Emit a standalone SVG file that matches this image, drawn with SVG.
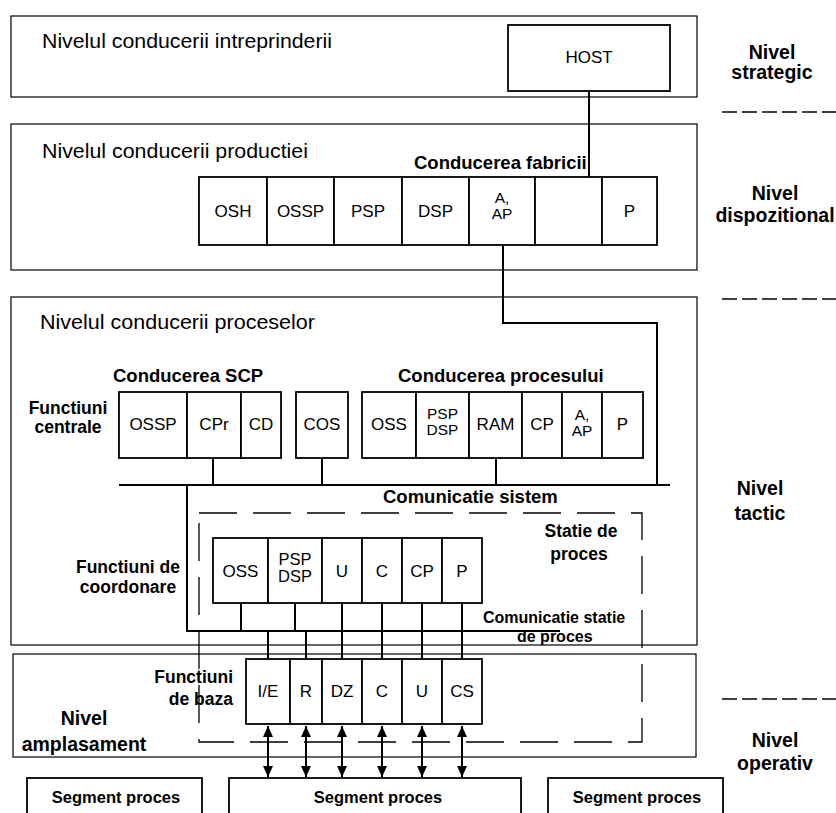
<svg xmlns="http://www.w3.org/2000/svg" width="836" height="813" viewBox="0 0 836 813">
  <defs>
    <style>
      text { font-family: "Liberation Sans", Arial, Helvetica, sans-serif; fill: #000; }
      .frame { fill: none; stroke: #000; stroke-width: 1.2; }
      .cell { fill: #fff; stroke: #000; stroke-width: 1.8; }
      .wire { fill: none; stroke: #000; stroke-width: 2; }
      .sep { fill: none; stroke: #000; stroke-width: 1.6; stroke-dasharray: 15 5; }
      .station { fill: none; stroke: #000; stroke-width: 1.3; stroke-dasharray: 38 16; }
      .arrow { fill: none; stroke: #000; stroke-width: 2; marker-start: url(#head); marker-end: url(#head); }
      .title { font-size: 21px; }
      .head { font-size: 18.5px; font-weight: bold; }
      .side { font-size: 19.5px; font-weight: bold; text-anchor: middle; }
      .note { font-size: 17.5px; font-weight: bold; }
      .small { font-size: 16px; font-weight: bold; }
      .lbl { font-size: 17px; text-anchor: middle; }
      .lbl2 { font-size: 15.5px; text-anchor: middle; }
      .lbl3 { font-size: 16.5px; text-anchor: middle; }
      .seg { font-size: 16.5px; font-weight: bold; text-anchor: middle; }
    </style>
    <marker id="head" viewBox="0 0 11 10" refX="11" refY="5" markerWidth="11" markerHeight="10" orient="auto-start-reverse" markerUnits="userSpaceOnUse">
      <path d="M0,0 L11,5 L0,10 Z" fill="#000"/>
    </marker>
  </defs>

  <rect width="836" height="813" fill="#fff"/>

  <!-- level frames -->
  <g id="level-enterprise">
    <rect class="frame" x="11" y="16" width="686" height="81"/>
    <text class="title" x="42" y="48" textLength="290" lengthAdjust="spacingAndGlyphs">Nivelul conducerii intreprinderii</text>
  </g>
  <g id="level-production">
    <rect class="frame" x="11" y="124" width="686" height="146"/>
    <text class="title" x="42" y="158" textLength="266" lengthAdjust="spacingAndGlyphs">Nivelul conducerii productiei</text>
    <text class="head" x="414" y="169">Conducerea fabricii</text>
  </g>
  <g id="level-processes">
    <rect class="frame" x="11" y="297" width="686" height="348"/>
    <text class="title" x="40" y="329" textLength="275" lengthAdjust="spacingAndGlyphs">Nivelul conducerii proceselor</text>
    <text class="head" x="113" y="382">Conducerea SCP</text>
    <text class="head" x="398" y="382">Conducerea procesului</text>
    <text class="note" x="68" y="414" text-anchor="middle">Functiuni</text>
    <text class="note" x="68" y="433" text-anchor="middle">centrale</text>
    <text class="head" x="383" y="503">Comunicatie sistem</text>
    <text class="note" x="128" y="573" text-anchor="middle">Functiuni de</text>
    <text class="note" x="128" y="593" text-anchor="middle">coordonare</text>
  </g>
  <g id="level-site">
    <rect class="frame" x="13" y="654" width="683" height="103"/>
    <text class="note" x="233" y="683" text-anchor="end">Functiuni</text>
    <text class="note" x="233" y="705" text-anchor="end">de baza</text>
    <text class="side" x="84" y="725">Nivel</text>
    <text class="side" x="84" y="751">amplasament</text>
  </g>

  <!-- process station (dashed outline) -->
  <g id="process-station">
    <rect class="station" x="199" y="513" width="443" height="229"/>
    <text class="note" x="581" y="537" text-anchor="middle">Statie de</text>
    <text class="note" x="579" y="560" text-anchor="middle">proces</text>
    <text class="small" x="483" y="623">Comunicatie statie</text>
    <text class="small" x="517" y="642">de proces</text>
  </g>

  <!-- right-hand level names and separators -->
  <g id="level-names">
    <text class="side" x="772" y="59">Nivel</text>
    <text class="side" x="772" y="79">strategic</text>
    <line class="sep" x1="722" y1="112" x2="836" y2="112"/>
    <text class="side" x="775" y="200">Nivel</text>
    <text class="side" x="775" y="222">dispozitional</text>
    <line class="sep" x1="722" y1="299" x2="836" y2="299"/>
    <text class="side" x="760" y="495">Nivel</text>
    <text class="side" x="760" y="520">tactic</text>
    <line class="sep" x1="722" y1="699" x2="836" y2="699"/>
    <text class="side" x="775" y="747">Nivel</text>
    <text class="side" x="775" y="770">operativ</text>
  </g>

  <!-- connectors -->
  <g id="connectors">
    <path class="wire" d="M589,91 V177"/>
    <path class="wire" d="M503,245 V323 H657 V485"/>
    <path class="wire" d="M119,485 H670"/>
    <path class="wire" d="M213,458 V485 M322,458 V485 M496,458 V485"/>
    <path class="wire" d="M187,485 V631 H560"/>
    <path class="wire" d="M241,603 V631 M295,603 V631 M342,603 V659 M382,603 V659 M422,603 V659 M462,603 V659"/>
    <path class="wire" d="M268,631 V659 M306,631 V659"/>
    <line class="arrow" x1="268" y1="726" x2="268" y2="777"/>
    <line class="arrow" x1="306" y1="726" x2="306" y2="777"/>
    <line class="arrow" x1="342" y1="726" x2="342" y2="777"/>
    <line class="arrow" x1="382" y1="726" x2="382" y2="777"/>
    <line class="arrow" x1="422" y1="726" x2="422" y2="777"/>
    <line class="arrow" x1="462" y1="726" x2="462" y2="777"/>
  </g>

  <!-- strategic level -->
  <g id="host"><rect class="cell" x="508" y="25" width="162" height="66"/><text class="lbl" x="589" y="63">HOST</text></g>

  <!-- factory management -->
  <g id="f-osh"><rect class="cell" x="199" y="177" width="68" height="68"/><text class="lbl" x="233" y="217">OSH</text></g>
  <g id="f-ossp"><rect class="cell" x="267" y="177" width="67" height="68"/><text class="lbl" x="300.5" y="217">OSSP</text></g>
  <g id="f-psp"><rect class="cell" x="334" y="177" width="68" height="68"/><text class="lbl" x="368" y="217">PSP</text></g>
  <g id="f-dsp"><rect class="cell" x="402" y="177" width="67" height="68"/><text class="lbl" x="435.5" y="217">DSP</text></g>
  <g id="f-aap"><rect class="cell" x="469" y="177" width="66" height="68"/><text class="lbl2" x="502" y="203">A,</text><text class="lbl2" x="502" y="219">AP</text></g>
  <g id="f-empty"><rect class="cell" x="535" y="177" width="67" height="68"/></g>
  <g id="f-p"><rect class="cell" x="602" y="177" width="55" height="68"/><text class="lbl" x="629.5" y="217">P</text></g>

  <!-- central functions: SCP management -->
  <g id="s-ossp"><rect class="cell" x="119" y="392" width="68" height="66"/><text class="lbl" x="153" y="430">OSSP</text></g>
  <g id="s-cpr"><rect class="cell" x="187" y="392" width="54" height="66"/><text class="lbl" x="214" y="430">CPr</text></g>
  <g id="s-cd"><rect class="cell" x="241" y="392" width="40" height="66"/><text class="lbl" x="261" y="430">CD</text></g>
  <g id="s-cos"><rect class="cell" x="296" y="392" width="52" height="66"/><text class="lbl" x="322" y="430">COS</text></g>

  <!-- central functions: process management -->
  <g id="p-oss"><rect class="cell" x="362" y="392" width="54" height="66"/><text class="lbl" x="389" y="430">OSS</text></g>
  <g id="p-pspdsp"><rect class="cell" x="416" y="392" width="53" height="66"/><text class="lbl2" x="442.5" y="419">PSP</text><text class="lbl2" x="442.5" y="435">DSP</text></g>
  <g id="p-ram"><rect class="cell" x="469" y="392" width="53" height="66"/><text class="lbl" x="495.5" y="430">RAM</text></g>
  <g id="p-cp"><rect class="cell" x="522" y="392" width="40" height="66"/><text class="lbl" x="542" y="430">CP</text></g>
  <g id="p-aap"><rect class="cell" x="562" y="392" width="40" height="66"/><text class="lbl2" x="582" y="420">A,</text><text class="lbl2" x="582" y="436">AP</text></g>
  <g id="p-p"><rect class="cell" x="602" y="392" width="41" height="66"/><text class="lbl" x="622.5" y="430">P</text></g>

  <!-- coordination functions -->
  <g id="c-oss"><rect class="cell" x="213" y="538" width="55" height="65"/><text class="lbl" x="240.5" y="577">OSS</text></g>
  <g id="c-pspdsp"><rect class="cell" x="268" y="538" width="54" height="65"/><text class="lbl3" x="295" y="565">PSP</text><text class="lbl3" x="295" y="582">DSP</text></g>
  <g id="c-u"><rect class="cell" x="322" y="538" width="40" height="65"/><text class="lbl" x="342" y="577">U</text></g>
  <g id="c-c"><rect class="cell" x="362" y="538" width="40" height="65"/><text class="lbl" x="382" y="577">C</text></g>
  <g id="c-cp"><rect class="cell" x="402" y="538" width="40" height="65"/><text class="lbl" x="422" y="577">CP</text></g>
  <g id="c-p"><rect class="cell" x="442" y="538" width="40" height="65"/><text class="lbl" x="462" y="577">P</text></g>

  <!-- basic functions -->
  <g id="b-ie"><rect class="cell" x="246" y="659" width="44" height="65"/><text class="lbl" x="268" y="697">I/E</text></g>
  <g id="b-r"><rect class="cell" x="290" y="659" width="32" height="65"/><text class="lbl" x="306" y="697">R</text></g>
  <g id="b-dz"><rect class="cell" x="322" y="659" width="40" height="65"/><text class="lbl" x="342" y="697">DZ</text></g>
  <g id="b-c"><rect class="cell" x="362" y="659" width="40" height="65"/><text class="lbl" x="382" y="697">C</text></g>
  <g id="b-u"><rect class="cell" x="402" y="659" width="40" height="65"/><text class="lbl" x="422" y="697">U</text></g>
  <g id="b-cs"><rect class="cell" x="442" y="659" width="40" height="65"/><text class="lbl" x="462" y="697">CS</text></g>

  <!-- process segments -->
  <g id="segment-left"><rect class="cell" x="27" y="778" width="175" height="50"/><text class="seg" x="116" y="803">Segment proces</text></g>
  <g id="segment-main"><rect class="cell" x="229" y="778" width="292" height="50"/><text class="seg" x="378" y="803">Segment proces</text></g>
  <g id="segment-right"><rect class="cell" x="548" y="778" width="175" height="50"/><text class="seg" x="637" y="803">Segment proces</text></g>
</svg>
